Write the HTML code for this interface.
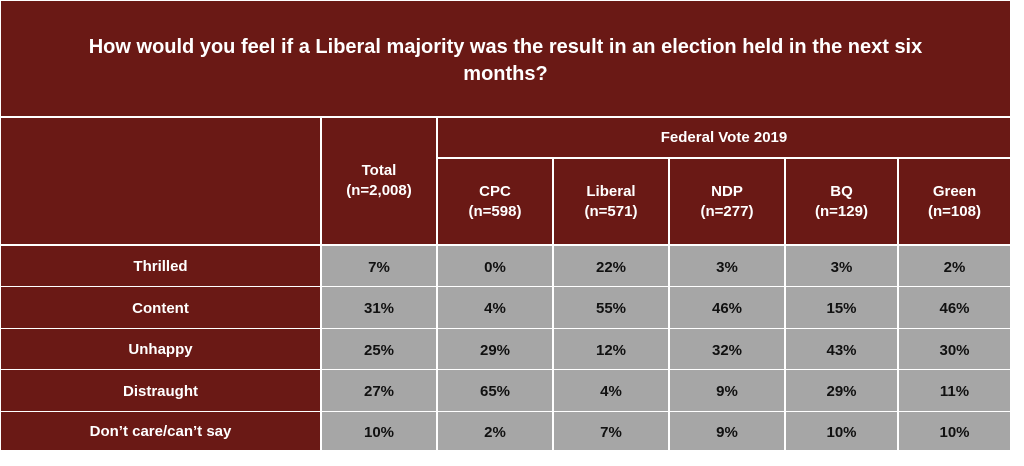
<!DOCTYPE html>
<html><head><style>
body{margin:0;width:1024px;height:466px;background:#fff;position:relative;overflow:hidden;font-family:"Liberation Sans",Arial,sans-serif;font-weight:bold;}
.c{position:absolute;display:flex;align-items:center;justify-content:center;text-align:center;box-sizing:border-box;}
.m{background:#6a1915;color:#fff;}
.g{background:#a6a6a6;color:#111;font-size:15px;}
.h{font-size:15px;line-height:20px;}
</style></head><body>
<div class="c m" style="left:1px;top:1px;width:1009px;height:115px;font-size:20px;line-height:27px;padding:4px 48px 0 48px;">How would you feel if a Liberal majority was the result in an election held in the next six months?</div>
<div class="c m" style="left:1px;top:118px;width:319px;height:126px;"></div>
<div class="c m h" style="left:322px;top:118px;width:114px;height:126px;">Total<br>(n=2,008)</div>
<div class="c m h" style="left:438px;top:118px;width:572px;height:39px;">Federal Vote 2019</div>
<div class="c m h" style="left:438px;top:159px;width:114px;height:85px;">CPC<br>(n=598)</div>
<div class="c m h" style="left:554px;top:159px;width:114px;height:85px;">Liberal<br>(n=571)</div>
<div class="c m h" style="left:670px;top:159px;width:114px;height:85px;">NDP<br>(n=277)</div>
<div class="c m h" style="left:786px;top:159px;width:111px;height:85px;">BQ<br>(n=129)</div>
<div class="c m h" style="left:899px;top:159px;width:111px;height:85px;">Green<br>(n=108)</div>
<div id="rows"></div>
<script>
var rows=[["Thrilled","7%","0%","22%","3%","3%","2%"],["Content","31%","4%","55%","46%","15%","46%"],["Unhappy","25%","29%","12%","32%","43%","30%"],["Distraught","27%","65%","4%","9%","29%","11%"],["Don’t care/can’t say","10%","2%","7%","9%","10%","10%"]];
var xs=[1,322,438,554,670,786,899,1012],ys=[246,287,329,370,412,451],h="";
rows.forEach(function(r,i){r.forEach(function(t,j){h+='<div class="c '+(j?'g':'m h')+'" style="left:'+xs[j]+'px;top:'+ys[i]+'px;width:'+(xs[j+1]-xs[j]-2)+'px;height:'+(ys[i+1]-ys[i]-1)+'px;font-size:15px;padding-top:2px">'+t+'</div>';});});
document.getElementById("rows").innerHTML=h;
</script>
</body></html>
